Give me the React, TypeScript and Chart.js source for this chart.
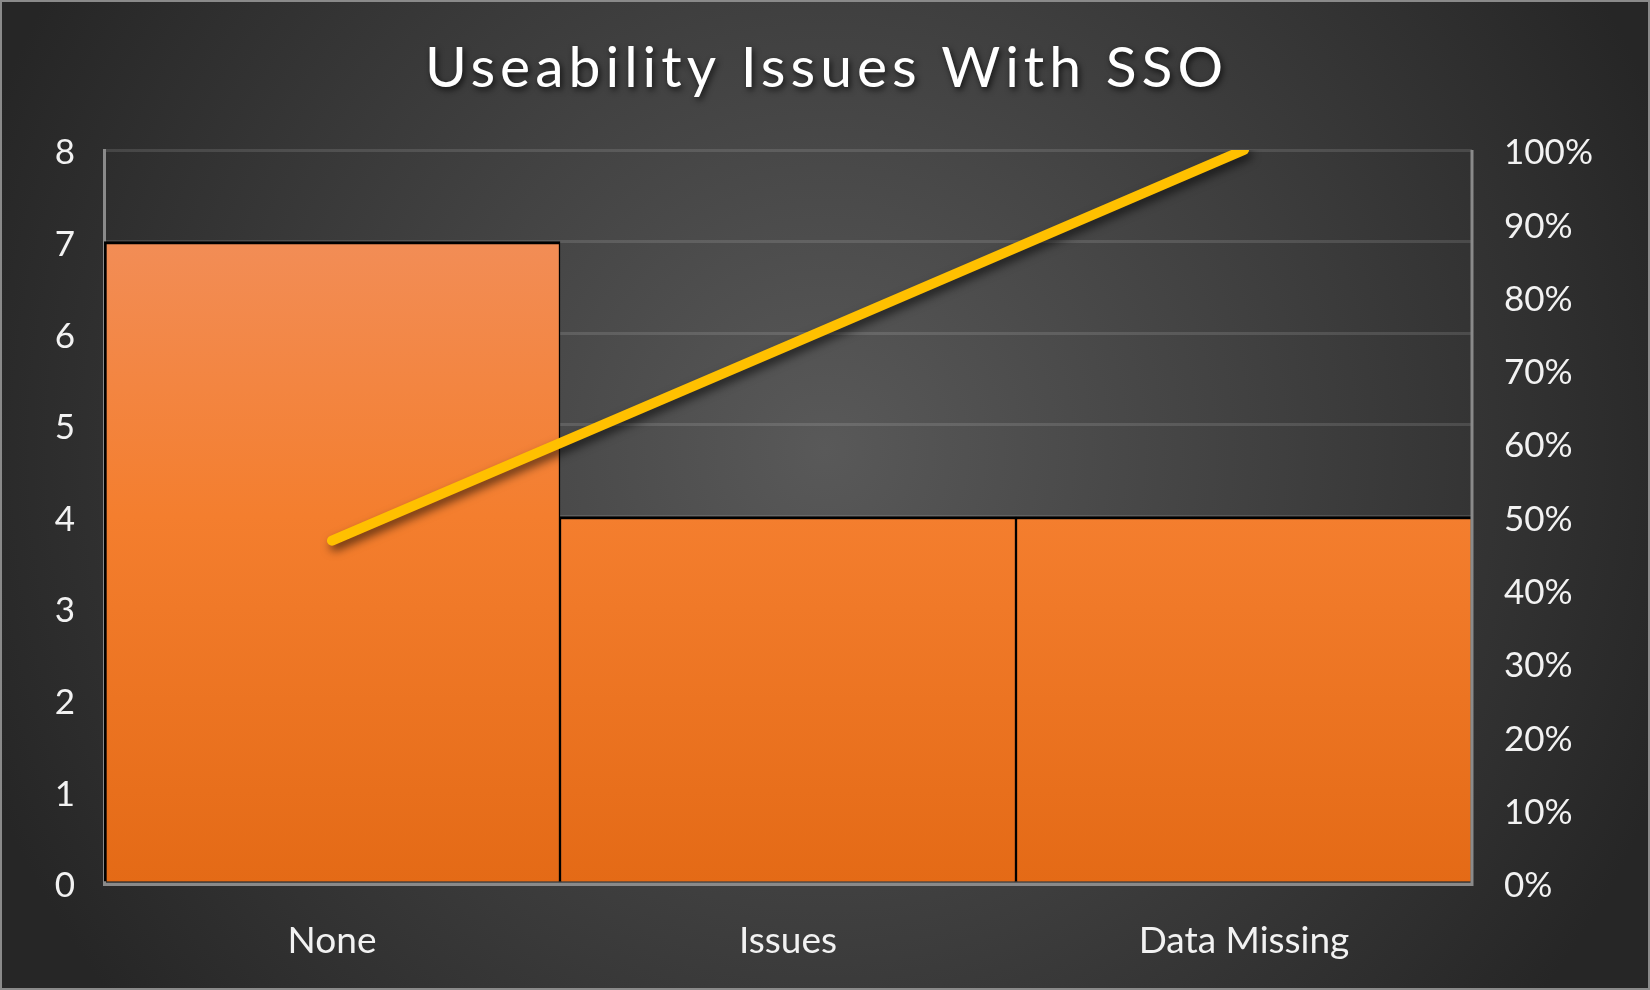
import { useEffect, useRef } from "react";
import { Chart, registerables } from "chart.js";

Chart.register(...registerables);

const TITLE = "Useability Issues With SSO";
const categories = ["None", "Issues", "Data Missing"];
const counts = [7, 4, 4];
const cumulativePercent = [46.7, 73.3, 100];
const leftTickMax = 8;
const leftTickStep = 1;
const rightTickMax = 100;
const rightTickStep = 10;

const FONT = "Lato, 'Open Sans', sans-serif";
const TEXT = "#f2f2f2";

export default function App() {
  const ref = useRef<HTMLCanvasElement | null>(null);

  useEffect(() => {
    document.body.style.margin = "0";
    const canvas = ref.current;
    if (!canvas) return;

    const bgPlugin = {
      id: "bg",
      beforeDraw(chart: any) {
        const { ctx, width, height } = chart;
        ctx.save();
        const g = ctx.createRadialGradient(825, 450, 0, 825, 450, 900);
        g.addColorStop(0, "#595959");
        g.addColorStop(1, "#262626");
        ctx.fillStyle = g;
        ctx.fillRect(0, 0, width, height);
        ctx.strokeStyle = "#8a8a8a";
        ctx.lineWidth = 2;
        ctx.strokeRect(1, 1, width - 2, height - 2);
        ctx.restore();
      },
    };

    const titlePlugin = {
      id: "customTitle",
      afterDraw(chart: any) {
        const { ctx } = chart;
        ctx.save();
        ctx.font = `57px ${FONT}`;
        (ctx as any).letterSpacing = "5px";
        ctx.textAlign = "center";
        ctx.textBaseline = "alphabetic";
        ctx.shadowColor = "rgba(0,0,0,0.7)";
        ctx.shadowBlur = 6;
        ctx.shadowOffsetX = 2;
        ctx.shadowOffsetY = 3;
        ctx.fillStyle = "#ffffff";
        ctx.fillText(TITLE, 826.5, 87);
        ctx.restore();
      },
    };

    const shadowPlugin = {
      id: "lineShadow",
      beforeDatasetDraw(chart: any, args: any) {
        if (args.index !== 0) return;
        const { ctx } = chart;
        ctx.save();
        ctx.shadowColor = "rgba(0,0,0,0.6)";
        ctx.shadowBlur = 10;
        ctx.shadowOffsetX = 3;
        ctx.shadowOffsetY = 5;
      },
      afterDatasetDraw(chart: any, args: any) {
        if (args.index !== 0) return;
        chart.ctx.restore();
      },
    };

    const axisPlugin = {
      id: "axisLines",
      afterDatasetsDraw(chart: any) {
        const { ctx, chartArea: a } = chart;
        ctx.save();
        ctx.strokeStyle = "#8a8a8a";
        ctx.lineWidth = 3;
        ctx.beginPath();
        ctx.moveTo(a.left - 1, a.bottom + 1.5);
        ctx.lineTo(a.right + 1.5, a.bottom + 1.5);
        ctx.moveTo(a.right, a.top);
        ctx.lineTo(a.right, a.bottom + 1.5);
        ctx.stroke();
        ctx.restore();
      },
    };

    const chart = new Chart(canvas, {
      type: "bar",
      data: {
        labels: categories,
        datasets: [
          {
            type: "line",
            data: cumulativePercent,
            yAxisID: "y1",
            borderColor: "#FFC000",
            borderWidth: 10,
            borderCapStyle: "round",
            borderJoinStyle: "round",
            pointRadius: 0,
            pointHoverRadius: 0,
            tension: 0,
            order: 0,
          } as any,
          {
            type: "bar",
            data: counts,
            yAxisID: "y",
            backgroundColor: (c: any) => {
              const a = c.chart.chartArea;
              if (!a) return "#F47E2E";
              const g = c.chart.ctx.createLinearGradient(0, a.top, 0, a.bottom);
              g.addColorStop(0, "#F3955F");
              g.addColorStop(0.125, "#F28D56");
              g.addColorStop(0.5, "#F47E2E");
              g.addColorStop(1, "#E46A16");
              return g;
            },
            borderColor: "#000000",
            borderWidth: (c: any) => ({
              top: 3,
              left: c.dataIndex === 0 ? 3 : 1.5,
              right: 1.5,
              bottom: 0,
            }),
            borderSkipped: "start",
            barPercentage: 1,
            categoryPercentage: 1,
            order: 1,
          } as any,
        ],
      },
      options: {
        responsive: false,
        animation: false,
        devicePixelRatio: 1,
        layout: { padding: { top: 150, left: 0, right: 0, bottom: 0 } },
        plugins: {
          legend: { display: false },
          tooltip: { enabled: false },
          title: { display: false },
        },
        scales: {
          x: {
            grid: { display: false, drawTicks: false },
            border: { display: false },
            ticks: { color: TEXT, font: { family: FONT, size: 37 }, padding: 36 },
            afterFit: (s: any) => {
              s.height = 107;
            },
          },
          y: {
            position: "left",
            min: 0,
            max: leftTickMax,
            ticks: {
              stepSize: leftTickStep,
              color: TEXT,
              font: { family: FONT, size: 35 },
              padding: 29,
              labelOffset: 3,
            },
            grid: { color: "rgba(255,255,255,0.12)", lineWidth: 3, drawTicks: false },
            border: { display: true, color: "#8a8a8a", width: 3 },
            afterFit: (s: any) => {
              s.width = 104;
            },
          },
          y1: {
            position: "right",
            min: 0,
            max: rightTickMax,
            ticks: {
              stepSize: rightTickStep,
              color: TEXT,
              font: { family: FONT, size: 35 },
              padding: 32,
              labelOffset: 3,
              callback: (v: any) => `${v}%`,
            },
            grid: { display: false, drawTicks: false },
            border: { display: false },
            afterFit: (s: any) => {
              s.width = 178;
            },
          },
        },
      } as any,
      plugins: [bgPlugin, titlePlugin, shadowPlugin, axisPlugin],
    });

    return () => chart.destroy();
  }, []);

  return (
    <div style={{ width: 1650, height: 990 }}>
      <canvas ref={ref} width={1650} height={990} style={{ display: "block" }} />
    </div>
  );
}
